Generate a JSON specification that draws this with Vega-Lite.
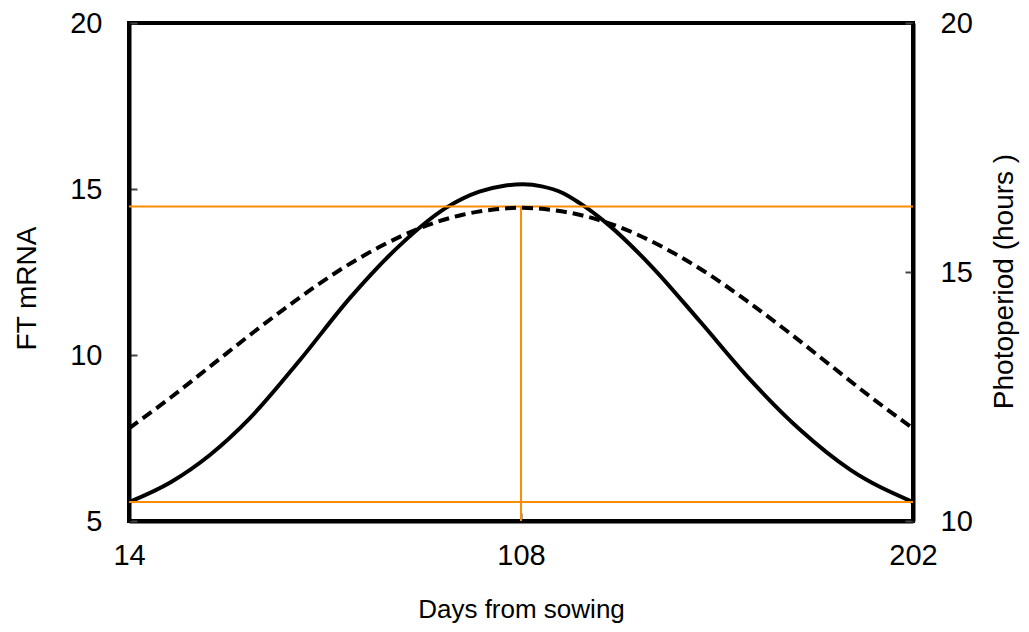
{
  "$schema": "https://vega.github.io/schema/vega-lite/v6.json",
  "width": 784,
  "height": 498,
  "autosize": "none",
  "padding": {"left": 129, "top": 23, "right": 116, "bottom": 111},
  "background": "white",
  "config": {
    "view": {"stroke": "black", "strokeWidth": 4},
    "font": "Liberation Sans",
    "axis": {
      "domainColor": "black",
      "domainWidth": 4,
      "tickColor": "#444444",
      "tickWidth": 2,
      "tickSize": -8,
      "grid": false,
      "labelFont": "Liberation Sans",
      "labelFontSize": 29,
      "labelColor": "black",
      "titleFont": "Liberation Sans",
      "titleFontSize": 26,
      "titleFontWeight": "normal",
      "titleColor": "black"
    }
  },
  "layer": [
    {
      "layer": [
        {
          "data": {"values": [
            {"day": 14, "ft": 5.57},
            {"day": 24, "ft": 6.17},
            {"day": 33.4, "ft": 6.99},
            {"day": 43, "ft": 8.1},
            {"day": 55, "ft": 9.85},
            {"day": 67, "ft": 11.72},
            {"day": 79, "ft": 13.31},
            {"day": 90, "ft": 14.43},
            {"day": 98, "ft": 14.92},
            {"day": 104, "ft": 15.1},
            {"day": 108.5, "ft": 15.14},
            {"day": 113, "ft": 15.08},
            {"day": 118, "ft": 14.88},
            {"day": 122, "ft": 14.58},
            {"day": 129, "ft": 13.92},
            {"day": 139, "ft": 12.71},
            {"day": 151, "ft": 11.0},
            {"day": 163, "ft": 9.25},
            {"day": 175, "ft": 7.74},
            {"day": 187, "ft": 6.54},
            {"day": 202, "ft": 5.57}
          ]},
          "mark": {"type": "line", "color": "black", "strokeWidth": 4, "interpolate": "monotone"},
          "encoding": {
            "x": {"field": "day", "type": "quantitative",
                  "scale": {"domain": [14, 202], "nice": false, "zero": false},
                  "axis": {"values": [14, 108, 202], "title": "Days from sowing", "labelPadding": 28, "titlePadding": 26, "labelFlush": false}},
            "y": {"field": "ft", "type": "quantitative", "title": "FT mRNA",
                  "scale": {"domain": [5, 20], "nice": false, "zero": false},
                  "axis": {"values": [5, 10, 15, 20], "orient": "left", "labelPadding": 35, "titlePadding": 28, "titleFontSize": 28, "titleY": 265, "labelFlush": false}}
          }
        },
        {
          "data": {"values": [{"level": 14.47}, {"level": 5.57}]},
          "mark": {"type": "rule", "color": "#FF8C00", "strokeWidth": 2},
          "encoding": {
            "y": {"field": "level", "type": "quantitative", "title": "FT mRNA"}
          }
        },
        {
          "data": {"values": [{"day": 108, "low": 5, "high": 14.47}]},
          "mark": {"type": "rule", "color": "#FF8C00", "strokeWidth": 2},
          "encoding": {
            "x": {"field": "day", "type": "quantitative", "title": "Days from sowing"},
            "y": {"field": "low", "type": "quantitative", "title": "FT mRNA"},
            "y2": {"field": "high"}
          }
        }
      ]
    },
    {
      "data": {"values": [
        {"day": 14, "photo": 11.86},
        {"day": 24, "photo": 12.48},
        {"day": 34, "photo": 13.14},
        {"day": 44, "photo": 13.8},
        {"day": 54, "photo": 14.43},
        {"day": 64, "photo": 15.01},
        {"day": 74, "photo": 15.5},
        {"day": 84, "photo": 15.89},
        {"day": 94, "photo": 16.15},
        {"day": 101, "photo": 16.25},
        {"day": 108, "photo": 16.29},
        {"day": 115, "photo": 16.25},
        {"day": 122, "photo": 16.15},
        {"day": 132, "photo": 15.89},
        {"day": 142, "photo": 15.5},
        {"day": 152, "photo": 15.01},
        {"day": 162, "photo": 14.43},
        {"day": 172, "photo": 13.8},
        {"day": 182, "photo": 13.14},
        {"day": 192, "photo": 12.48},
        {"day": 202, "photo": 11.86}
      ]},
      "mark": {"type": "line", "color": "black", "strokeWidth": 4, "strokeDash": [11, 6], "interpolate": "monotone"},
      "encoding": {
        "x": {"field": "day", "type": "quantitative", "title": "Days from sowing"},
        "y": {"field": "photo", "type": "quantitative", "title": "Photoperiod (hours )",
              "scale": {"domain": [10, 20], "nice": false, "zero": false},
              "axis": {"orient": "right", "values": [10, 15, 20], "titleAngle": 270, "titleBaseline": "top", "titleFontSize": 28, "titleY": 258, "labelPadding": 35, "titlePadding": 18, "labelFlush": false}}
      }
    }
  ],
  "resolve": {"scale": {"y": "independent"}}
}
